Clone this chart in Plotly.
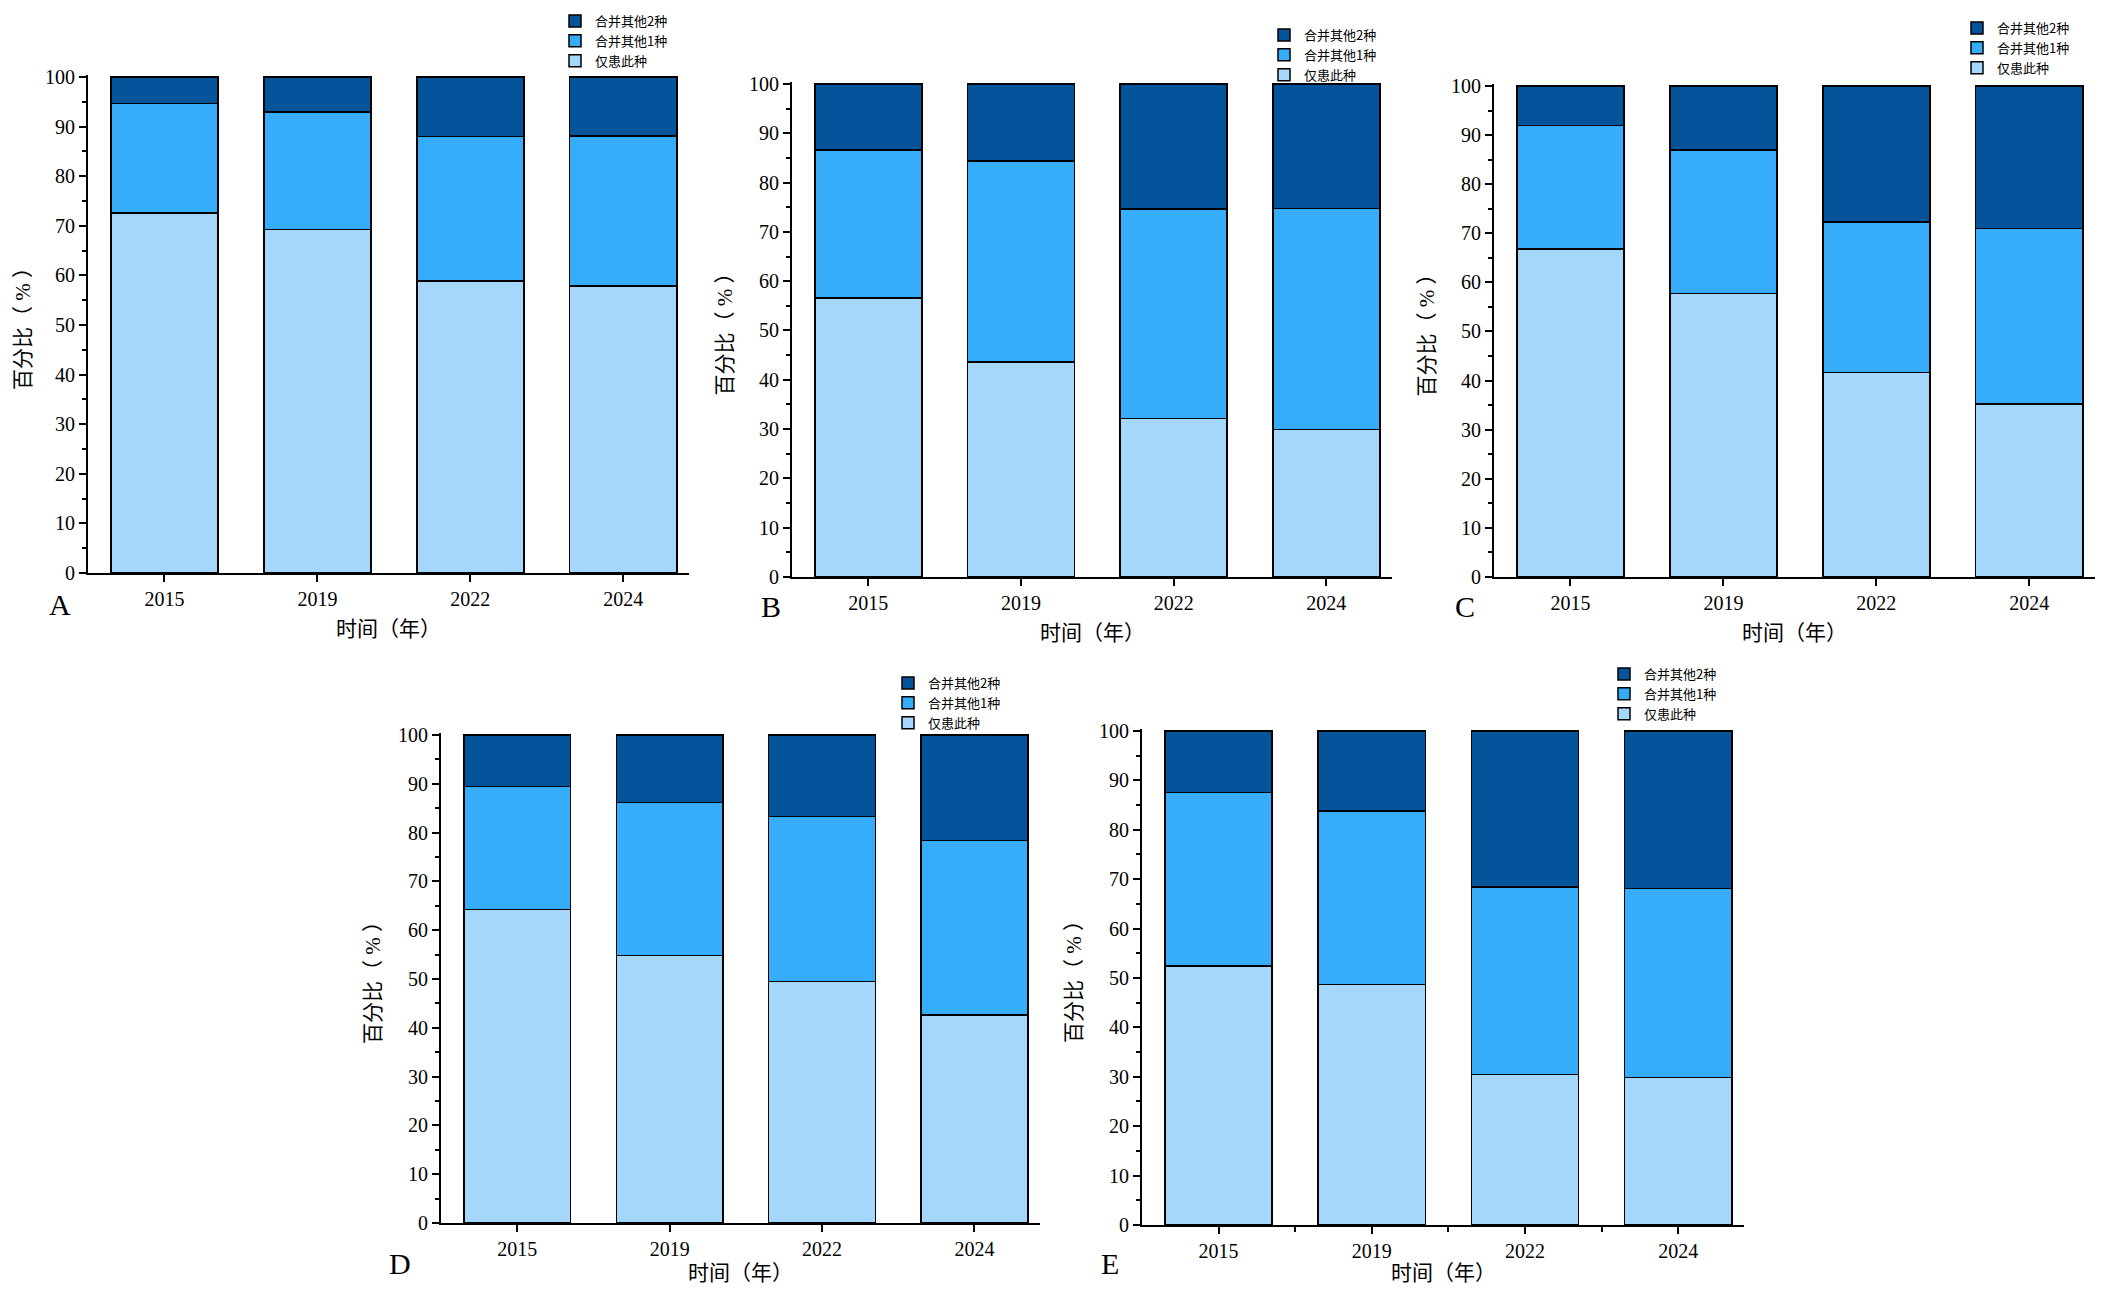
import plotly.graph_objs as go

# the page body keeps an 8px margin, so the figure is drawn 16px smaller
# and every target pixel is shifted by that margin
PAD = 8
W = 2104 - 2 * PAD
H = 1296 - 2 * PAD

years = ['2015', '2019', '2022', '2024']
series_names = ['仅患此种', '合并其他1种', '合并其他2种']
colors = ['#a5d7fc', '#35adfb', '#03549b']

# segment values per panel (%): 仅患此种, 合并其他1种, 合并其他2种
A_only = [72.6, 69.3, 58.9, 57.9]
A_one = [22.1, 23.6, 29.1, 30.2]
A_two = [5.3, 7.1, 12.0, 11.9]

B_only = [56.6, 43.6, 32.2, 29.9]
B_one = [30.0, 40.8, 42.4, 44.8]
B_two = [13.4, 15.6, 25.4, 25.3]

C_only = [66.8, 57.7, 41.6, 35.2]
C_one = [25.2, 29.3, 30.7, 35.8]
C_two = [8.0, 13.0, 27.7, 29.0]

D_only = [64.2, 54.8, 49.5, 42.6]
D_one = [25.2, 31.4, 33.8, 35.8]
D_two = [10.6, 13.8, 16.7, 21.6]

E_only = [52.4, 48.7, 30.5, 29.9]
E_one = [35.1, 35.1, 37.9, 38.2]
E_two = [12.5, 16.2, 31.6, 31.9]

panel_letters = ['A', 'B', 'C', 'D', 'E']
panel_data = [[A_only, A_one, A_two],
              [B_only, B_one, B_two],
              [C_only, C_one, C_two],
              [D_only, D_one, D_two],
              [E_only, E_one, E_two]]

# plot boxes in screen pixels: left, right, top, bottom
boxes = [(88, 689, 75, 573),
         (792, 1392, 82, 577),
         (1494, 2095, 84, 577),
         (441, 1040, 733, 1223),
         (1142, 1744, 729, 1225)]
# legend text start x and first row centre y (screen pixels)
legend_pos = [(595, 17), (1304, 31), (1997, 24), (928, 679), (1644, 670)]
# panel letter positions (screen pixels)
letter_pos = [(60, 604), (771, 606), (1465, 606), (400, 1263), (1110, 1263)]

serif = 'Liberation Serif, Noto Sans CJK SC'
cjk = 'Noto Sans CJK SC, Noto Sans'


def fx(p):
    return (p - PAD) / W


def fy(p):
    return 1 - (p - PAD) / H


data = []
layout = dict(width=W, height=H,
              margin=dict(l=0, r=0, t=0, b=0, autoexpand=False),
              paper_bgcolor='white', plot_bgcolor='white',
              barmode='stack', showlegend=True,
              annotations=[])

for i in range(5):
    n = '' if i == 0 else str(i + 1)
    leg = 'legend' + n
    for k in range(3):
        data.append(go.Bar(x=years,
                           y=panel_data[i][k],
                           name=series_names[k],
                           xaxis='x' + n,
                           yaxis='y' + n,
                           legend=leg,
                           width=0.7,
                           marker={'color': colors[k],
                                   'line': {'color': 'black', 'width': 1.5}}))

    l, r, t, b = boxes[i]
    xa = dict(domain=[fx(l), fx(r)], anchor='y' + n, type='category',
              range=[-0.5, 3.43], showline=True, linecolor='black', linewidth=2,
              ticks='outside', ticklen=7, tickwidth=2, tickcolor='black',
              tickfont=dict(family=serif, size=20, color='black'),
              showgrid=False, zeroline=False)
    if i == 4:
        xa['minor'] = dict(tickvals=[0.5, 1.5, 2.5], ticks='outside',
                           ticklen=5, tickwidth=2, tickcolor='black')
    ya = dict(domain=[fy(b), fy(t)], anchor='x' + n,
              range=[0, 100.4], tick0=0, dtick=10,
              showline=True, linecolor='black', linewidth=2,
              ticks='outside', ticklen=7, tickwidth=2, tickcolor='black',
              minor=dict(dtick=5, ticks='outside', ticklen=4, tickwidth=2,
                         tickcolor='black'),
              tickfont=dict(family=serif, size=20, color='black'),
              showgrid=False, zeroline=False)
    layout['xaxis' + n] = xa
    layout['yaxis' + n] = ya

    lx, ly = legend_pos[i]
    layout[leg] = dict(x=fx(lx - 40), y=fy(ly - 11), xanchor='left', yanchor='top',
                       traceorder='reversed', bgcolor='rgba(0,0,0,0)',
                       font=dict(family=cjk, size=13, color='black'),
                       itemclick=False)

    # axis titles and panel letter (bottom row titles kept inside the page)
    title_y = min(b + 56, 1273)
    layout['annotations'].append(dict(text='时间（年）', xref='paper', yref='paper',
                                      x=fx((l + r) / 2), y=fy(title_y),
                                      xanchor='center', yanchor='middle',
                                      showarrow=False,
                                      font=dict(family=serif, size=21, color='black')))
    layout['annotations'].append(dict(text='百分比（ % ）', xref='paper', yref='paper',
                                      x=fx(max(l - 68, 23)), y=fy((t + b) / 2),
                                      textangle=-90,
                                      xanchor='center', yanchor='middle',
                                      showarrow=False,
                                      font=dict(family=serif, size=21, color='black')))
    px_, py_ = letter_pos[i]
    layout['annotations'].append(dict(text=panel_letters[i], xref='paper', yref='paper',
                                      x=fx(px_), y=fy(py_),
                                      xanchor='center', yanchor='middle',
                                      showarrow=False,
                                      font=dict(family=serif, size=30, color='black')))

fig = go.Figure(data=data, layout=go.Layout(layout))
fig.write_html('out.html')
